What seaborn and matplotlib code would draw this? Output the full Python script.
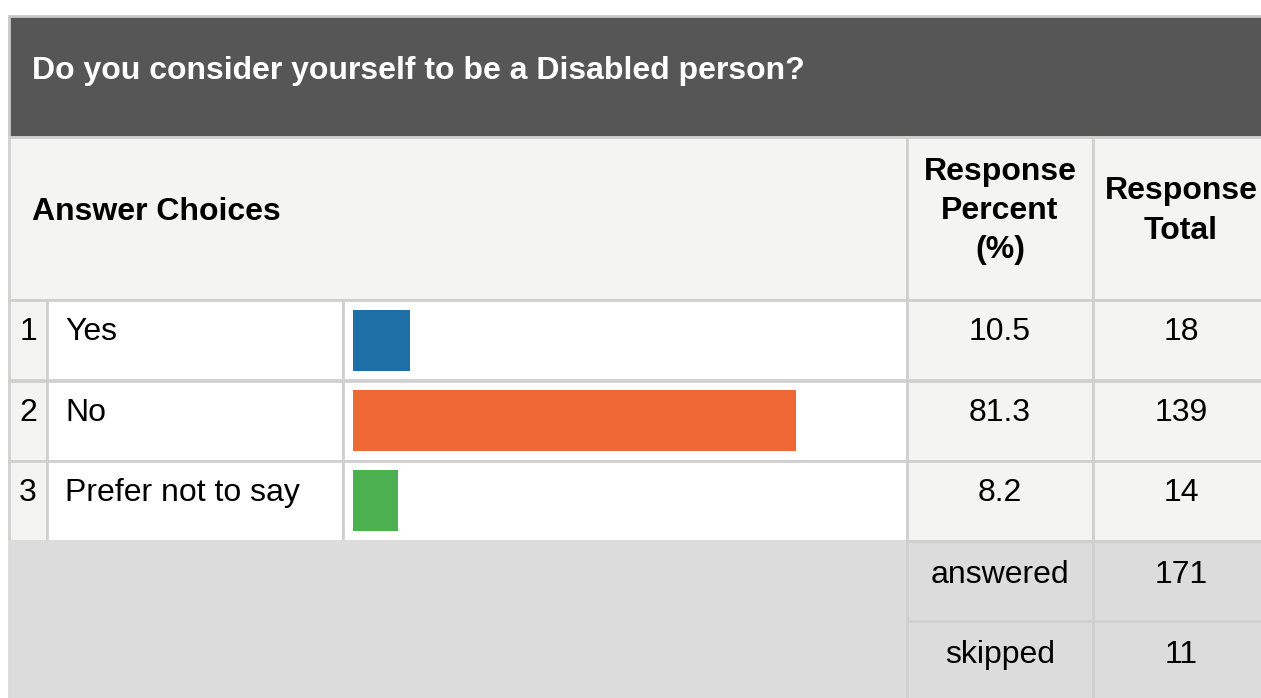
import matplotlib
matplotlib.use("Agg")
import matplotlib.pyplot as plt
from matplotlib.patches import Rectangle
import seaborn as sns
import pandas as pd

plt.rcParams["font.family"] = ["Liberation Sans", "DejaVu Sans"]

# ===================== 数据 =====================
question = "Do you consider yourself to be a Disabled person?"
choices = ["Yes", "No", "Prefer not to say"]
percents = [10.5, 81.3, 8.2]
totals = [18, 139, 14]
answered = 171
skipped = 11
bar_colors = ["#1d6fa6", "#f06835", "#4caf50"]

W, H = 1261, 698
FS = 23  # ~32px

fig = plt.figure(figsize=(W / 100, H / 100), dpi=100)
ax = fig.add_axes([0, 0, 1, 1])
ax.set_xlim(0, W)
ax.set_ylim(H, 0)
ax.axis("off")

border = "#d0d0d0"


def cell(x0, y0, x1, y1, fc, ec=border, lw=2):
    ax.add_patch(Rectangle((x0, y0), x1 - x0, y1 - y0, facecolor=fc,
                           edgecolor=ec, linewidth=lw))


def txt(x, y, s, ha="center", **kw):
    ax.text(x, y, s, fontsize=FS, ha=ha, va="baseline", **kw)


# 表格结构
cell(9, 16, 1280, 137, "#555655", ec="#c8c8c8")
cell(9, 137, 907, 300, "#f4f4f2")
cell(907, 137, 1093, 300, "#f4f4f2")
cell(1093, 137, 1280, 300, "#f4f4f2")

row_tops = [300, 381, 461]
for i, top in enumerate(row_tops):
    bot = top + 80
    cell(9, top, 47, bot, "#f4f4f2")
    cell(47, top, 343, bot, "white")
    cell(343, top, 907, bot, "white")
    cell(907, top, 1093, bot, "#f4f4f2")
    cell(1093, top, 1280, bot, "#f4f4f2")
    by = top + 40
    txt(28, by, str(i + 1))
    txt(65, by, choices[i], ha="left")
    txt(1000, by, f"{percents[i]:.1f}")
    txt(1181, by, str(totals[i]))

# 底部汇总
cell(9, 541, 907, 700, "#dcdcdc", ec="#dcdcdc")
cell(907, 541, 1093, 621, "#dcdcdc")
cell(1093, 541, 1280, 621, "#dcdcdc")
cell(907, 621, 1093, 700, "#dcdcdc")
cell(1093, 621, 1280, 700, "#dcdcdc")
txt(1000, 583, "answered")
txt(1181, 583, str(answered))
txt(1000, 663, "skipped")
txt(1181, 663, str(skipped))

# 标题与表头
txt(32, 79, question, ha="left", color="white", fontweight="bold")
txt(32, 220, "Answer Choices", ha="left", fontweight="bold")
for s, y in zip(["Response", "Percent", "(%)"], [180, 219, 258]):
    txt(1000, y, s, fontweight="bold")
for s, y in zip(["Response", "Total"], [199, 239]):
    txt(1181, y, s, fontweight="bold")

# ===================== 条形图 =====================
df = pd.DataFrame({"choice": choices, "percent": percents})
bar_ax = fig.add_axes([353 / W, (H - 541) / H, 545 / W, 241 / H])
sns.barplot(data=df, x="percent", y="choice", hue="choice", palette=bar_colors,
            orient="h", width=0.76, legend=False, ax=bar_ax, saturation=1)
bar_ax.set_xlim(0, 100)
bar_ax.set_ylim(2.5, -0.5)
bar_ax.axis("off")
bar_ax.patch.set_alpha(0)

fig.savefig("out.png", dpi=100)
